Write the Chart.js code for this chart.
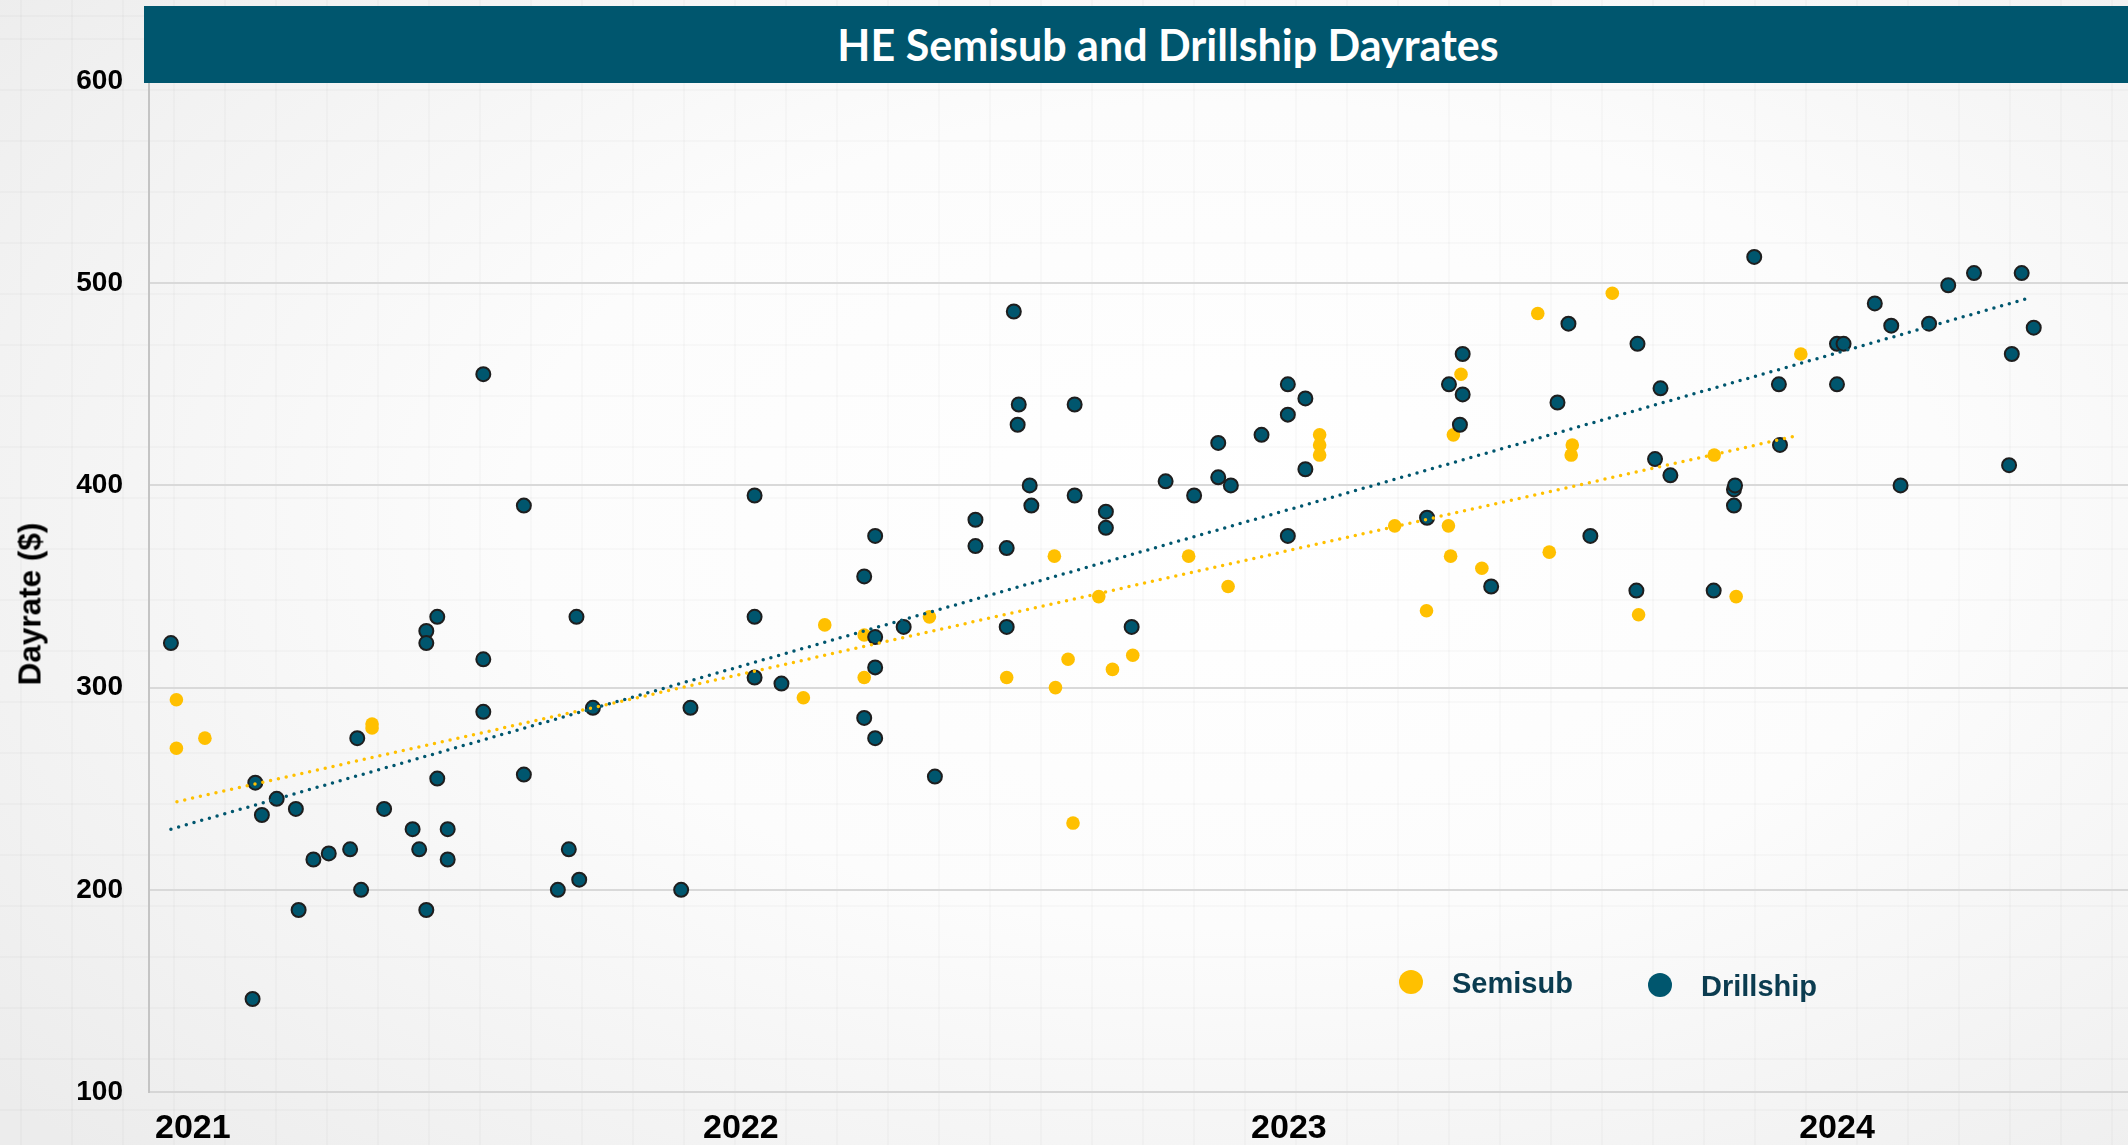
<!DOCTYPE html>
<html>
<head>
<meta charset="utf-8">
<script src="https://cdn.jsdelivr.net/npm/chart.js@4.4.1/dist/chart.umd.min.js"></script>
<style>
  html, body { margin: 0; padding: 0; width: 2128px; height: 1145px; overflow: hidden; }
  body {
    background-color: #f6f6f6;
    background-image:
      repeating-linear-gradient(0deg, rgba(0,0,0,0.018) 0px, rgba(0,0,0,0.018) 2px, transparent 2px, transparent 51px),
      repeating-linear-gradient(90deg, rgba(0,0,0,0.018) 0px, rgba(0,0,0,0.018) 2px, transparent 2px, transparent 51px),
      radial-gradient(ellipse 75% 80% at 58% 45%, #ffffff 0%, #fcfcfc 45%, #ececec 100%);
    background-position: 20px 17px, 20px 17px, 0 0;
  }
  #wrap { position: relative; width: 2128px; height: 1145px; }
  #chart { position: absolute; left: 0; top: 0; }
  #titlebar { position: absolute; left: 144px; top: 6px; width: 1984px; height: 77px; background: #00566e; }
  #titlebar span { position: absolute; left: 1024px; top: 0; transform: translateX(-50%); white-space: nowrap;
    font-family: Lato, "Open Sans", sans-serif; font-weight: 700; font-size: 43px; line-height: 77px; color: #ffffff; }
  #ytitle { position: absolute; left: 30px; top: 604px; transform: translate(-50%, -50%) rotate(-90deg); white-space: nowrap;
    font-family: "Liberation Sans", Arial, sans-serif; font-weight: 700; font-size: 31.5px; color: #000; }
  .leg { position: absolute; white-space: nowrap; font-family: "Liberation Sans", Arial, sans-serif; font-weight: 700;
    font-size: 29px; color: #0b3c50; line-height: 34px; }
  .dot { position: absolute; width: 24px; height: 24px; border-radius: 50%; }
</style>
</head>
<body>
<div id="wrap">
  <canvas id="chart" width="2128" height="1145"></canvas>
  <div id="titlebar"><span id="titletext"></span></div>
  <div id="ytitle"></div>
  <div id="legend"></div>
</div>
<script>
// ---- data (x = decimal year, y = dayrate) ----
const chartTitle = "HE Semisub and Drillship Dayrates";
const yAxisTitle = "Dayrate ($)";
const seriesNames = ["Semisub", "Drillship"];
const yearTicks = [2021, 2022, 2023, 2024];
const yearTickLabels = ["2021", "2022", "2023", "2024"];
const yTicks = [100, 200, 300, 400, 500, 600];

const semisubX = [2020.970, 2020.970, 2021.022, 2021.327, 2021.327, 2022.114, 2022.153, 2022.225, 2022.225, 2022.344,
  2022.485, 2022.572, 2022.574, 2022.597, 2022.606, 2022.653, 2022.678, 2022.715, 2022.817, 2022.889,
  2023.056, 2023.056, 2023.056, 2023.193, 2023.251, 2023.291, 2023.295, 2023.300, 2023.314, 2023.352,
  2023.454, 2023.475, 2023.517, 2023.515, 2023.590, 2023.638, 2023.776, 2023.816, 2023.934];
const semisubY = [294, 270, 275, 282, 280, 295, 331, 326, 305, 335,
  305, 365, 300, 314, 233, 345, 309, 316, 365, 350,
  425, 420, 415, 380, 338, 380, 365, 425, 455, 359,
  485, 367, 420, 415, 495, 336, 415, 345, 465];

const drillshipX = [2020.960, 2021.114, 2021.126, 2021.109, 2021.153, 2021.188, 2021.193, 2021.220, 2021.248, 2021.287,
  2021.300, 2021.307, 2021.349, 2021.401, 2021.413, 2021.426, 2021.426, 2021.426, 2021.446, 2021.446,
  2021.465, 2021.465, 2021.530, 2021.530, 2021.530, 2021.604, 2021.604, 2021.666, 2021.686, 2021.700,
  2021.705, 2021.730, 2021.891, 2021.908, 2022.025, 2022.025, 2022.025, 2022.074, 2022.225, 2022.225,
  2022.245, 2022.245, 2022.245, 2022.245, 2022.297, 2022.354, 2022.428, 2022.428, 2022.485, 2022.485,
  2022.498, 2022.507, 2022.505, 2022.527, 2022.530, 2022.609, 2022.609, 2022.666, 2022.666, 2022.713,
  2022.775, 2022.827, 2022.871, 2022.871, 2022.894, 2022.950, 2022.998, 2022.998, 2022.998, 2023.030,
  2023.030, 2023.252, 2023.292, 2023.312, 2023.317, 2023.317, 2023.369, 2023.490, 2023.510, 2023.550,
  2023.636, 2023.634, 2023.668, 2023.678, 2023.696, 2023.775, 2023.812, 2023.812, 2023.814, 2023.849,
  2023.894, 2023.896, 2024.000, 2024.000, 2024.012, 2024.069, 2024.099, 2024.116, 2024.168, 2024.203,
  2024.250, 2024.314, 2024.319, 2024.337, 2024.359];
const drillshipY = [322, 253, 237, 146, 245, 240, 190, 215, 218, 220,
  275, 200, 240, 230, 220, 328, 322, 190, 335, 255,
  230, 215, 455, 314, 288, 390, 257, 200, 220, 335,
  205, 290, 200, 290, 395, 335, 305, 302, 355, 285,
  375, 325, 310, 275, 330, 256, 383, 370, 369, 330,
  486, 440, 430, 400, 390, 440, 395, 387, 379, 330,
  402, 395, 421, 404, 400, 425, 450, 435, 375, 443,
  408, 384, 450, 430, 465, 445, 350, 441, 480, 375,
  470, 348, 413, 448, 405, 348, 390, 398, 400, 513,
  450, 420, 450, 470, 470, 490, 479, 400, 480, 499,
  505, 410, 465, 505, 478];

// linear trendlines as drawn in the reference (end points)
const semisubTrendX = [2020.971, 2023.931];
const semisubTrendY = [243.6, 424.8];
const drillshipTrendX = [2020.960, 2024.356];
const drillshipTrendY = [230.0, 493.1];

function pts(xs, ys) { return xs.map((x, i) => ({ x: x, y: ys[i] })); }

const YELLOW = '#ffc000';
const TEAL = '#00566e';

document.getElementById('titletext').textContent = chartTitle;
document.getElementById('ytitle').textContent = yAxisTitle;
const legendEl = document.getElementById('legend');
const legendItems = [
  { name: seriesNames[0], color: YELLOW, dot: [1399, 970], text: [1452, 966] },
  { name: seriesNames[1], color: TEAL, dot: [1648, 973], text: [1701, 969] }
];
legendItems.forEach(it => {
  const d = document.createElement('div'); d.className = 'dot';
  d.style.left = it.dot[0] + 'px'; d.style.top = it.dot[1] + 'px'; d.style.background = it.color;
  legendEl.appendChild(d);
  const t = document.createElement('div'); t.className = 'leg';
  t.style.left = it.text[0] + 'px'; t.style.top = it.text[1] + 'px'; t.textContent = it.name;
  legendEl.appendChild(t);
});

const tickFont = { family: '"Liberation Sans", Arial, sans-serif', weight: 'bold' };

new Chart(document.getElementById('chart'), {
  type: 'scatter',
  data: {
    datasets: [
      { label: seriesNames[1] + ' trend', data: pts(drillshipTrendX, drillshipTrendY), type: 'line', showLine: true,
        borderColor: TEAL, borderWidth: 3.5, borderDash: [0, 8], borderCapStyle: 'round', pointRadius: 0, fill: false, order: 0 },
      { label: seriesNames[0] + ' trend', data: pts(semisubTrendX, semisubTrendY), type: 'line', showLine: true,
        borderColor: YELLOW, borderWidth: 3.5, borderDash: [0, 8], borderCapStyle: 'round', pointRadius: 0, fill: false, order: 0 },
      { label: seriesNames[1], data: pts(drillshipX, drillshipY), backgroundColor: TEAL, borderColor: '#1e1e1e',
        borderWidth: 2, pointRadius: 7, pointHoverRadius: 7, order: 1 },
      { label: seriesNames[0], data: pts(semisubX, semisubY), backgroundColor: YELLOW, borderColor: YELLOW,
        borderWidth: 0, pointRadius: 6.8, pointHoverRadius: 6.8, order: 2 }
    ]
  },
  options: {
    responsive: false,
    animation: false,
    devicePixelRatio: 1,
    layout: { autoPadding: false, padding: { top: 81, right: 0, bottom: 0, left: 0 } },
    plugins: { legend: { display: false }, title: { display: false }, tooltip: { enabled: false } },
    scales: {
      x: {
        type: 'linear', min: 2020.92, max: 2024.531,
        afterBuildTicks: s => { s.ticks = yearTicks.map(v => ({ value: v })); },
        afterFit: s => { s.height = 53; },
        ticks: {
          autoSkip: false, maxRotation: 0, padding: 16, color: '#000',
          font: Object.assign({ size: 34 }, tickFont),
          callback: (v) => { const i = yearTicks.indexOf(v); return i >= 0 ? yearTickLabels[i] : ''; }
        },
        grid: { display: false, drawTicks: false },
        border: { display: true, color: '#d6d6d6', width: 2 }
      },
      y: {
        type: 'linear', min: 100, max: 600,
        afterBuildTicks: s => { s.ticks = yTicks.map(v => ({ value: v })); },
        afterFit: s => { s.width = 149; },
        ticks: { padding: 26, color: '#000', font: Object.assign({ size: 28 }, tickFont) },
        grid: { color: '#d9d9d9', lineWidth: 2, drawTicks: false },
        border: { display: true, color: '#c4c4c4', width: 2 }
      }
    }
  }
});
</script>
</body>
</html>
